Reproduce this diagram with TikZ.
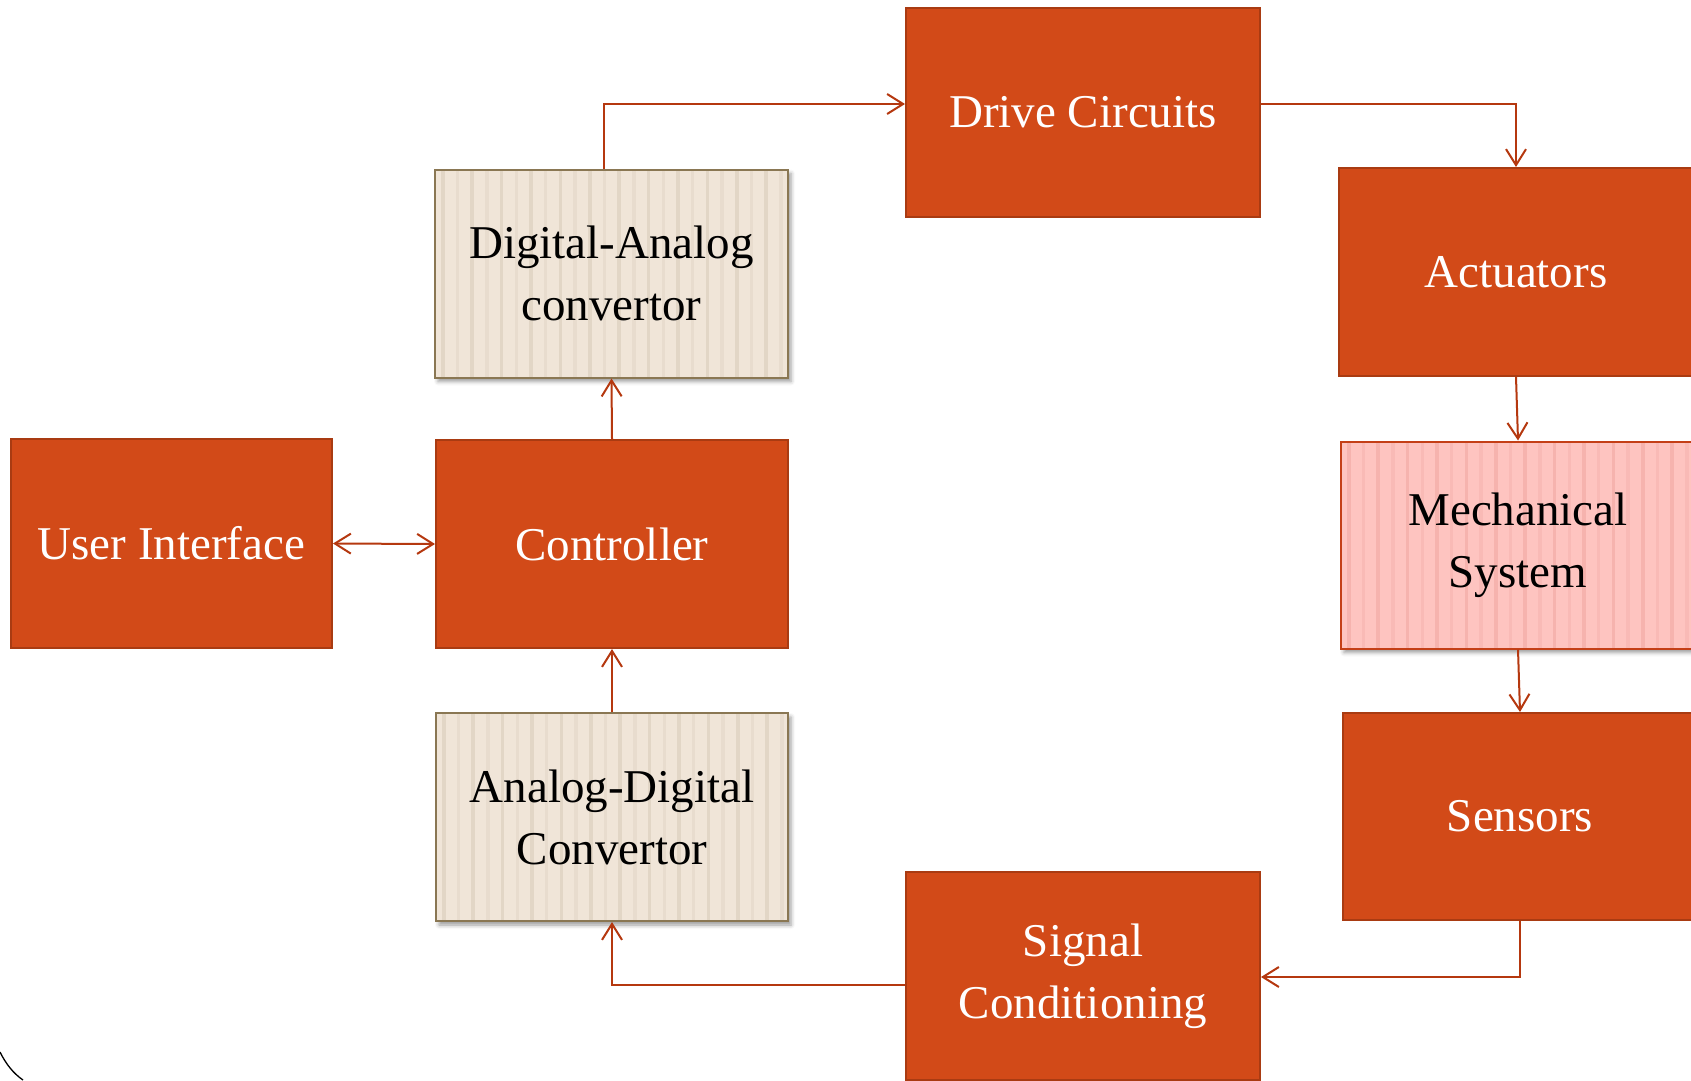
\documentclass[tikz,border=0pt]{standalone}
\usepackage{fontspec}
\setmainfont{Liberation Serif}
\usetikzlibrary{arrows.meta,shadows.blur}

\definecolor{rust}{HTML}{D24A18}
\definecolor{rustedge}{HTML}{A93B12}
\definecolor{linkred}{HTML}{B5380F}
\definecolor{sand}{HTML}{F0E5D8}
\definecolor{sandstripe}{HTML}{E2D6C6}
\definecolor{sandedge}{HTML}{8A7753}
\definecolor{blush}{HTML}{FEC4C0}
\definecolor{blushstripe}{HTML}{F6B3AE}
\definecolor{blushedge}{HTML}{C43F17}

\tikzset{
  block/.style={rectangle, inner sep=0pt, align=center,
    font=\fontsize{47}{62}\selectfont, line width=2pt},
  hot/.style={block, fill=rust, draw=rustedge, text=white},
  stripes/.style={path picture={
    \foreach \k in {0,2,...,24}{
      \fill[#1] ([xshift=\k*14.7pt+6pt]path picture bounding box.south west)
        rectangle ([xshift=\k*14.7pt+9.5pt]path picture bounding box.north west);
    }
    \foreach \k in {1,3,...,23}{
      \fill[#1, opacity=0.55] ([xshift=\k*14.7pt+6pt]path picture bounding box.south west)
        rectangle ([xshift=\k*14.7pt+9.5pt]path picture bounding box.north west);
    }}},
  soft/.style={blur shadow={shadow xshift=3pt, shadow yshift=-4pt,
    shadow blur radius=4pt, shadow opacity=40}},
  paper/.style={block, fill=sand, draw=sandedge, text=black, stripes=sandstripe, soft},
  pink/.style={block, fill=blush, draw=blushedge, text=black, stripes=blushstripe, soft},
  tip/.tip={Straight Barb[length=16pt, width=20pt]},
  link/.style={draw=linkred, line width=2pt, -tip},
  duplex/.style={draw=linkred, line width=2pt, tip-tip}
}

\begin{document}
\begin{tikzpicture}[x=1pt, y=-1pt]
  \useasboundingbox (0,0) rectangle (1691,1080);
  \begin{scope}
  \clip (0,0) rectangle (1691,1080);

  % control chain on the left
  \node[hot, minimum width=321pt, minimum height=209pt] (ui) at (171.5,543.5) {User Interface};
  \node[paper, minimum width=353pt, minimum height=208pt] (dac) at (611.5,273.5) {Digital-Analog\\convertor};
  \node[hot, minimum width=352pt, minimum height=208pt] (ctrl) at (612,544) {Controller};
  \node[paper, minimum width=352pt, minimum height=208pt] (adc) at (612,817) {Analog-Digital\\Convertor};

  % middle column
  \node[hot, minimum width=354pt, minimum height=209pt] (drive) at (1083,112.5) {Drive Circuits};
  \node[hot, minimum width=354pt, minimum height=208pt] (sig) at (1083,976) {Signal\\Conditioning};

  % plant on the right
  \node[hot, minimum width=354pt, minimum height=208pt] (act) at (1516,272) {Actuators};
  \node[pink, minimum width=354pt, minimum height=207pt] (mech) at (1518,545) {Mechanical\\System};
  \node[hot, minimum width=354pt, minimum height=207pt] (sens) at (1520,816.5) {Sensors};

  % signal flow
  \draw[link] ([xshift=-7.5pt]dac.north) |- ([yshift=8.5pt]drive.west);
  \draw[link] ([yshift=8.5pt]drive.east) -| (act.north);
  \draw[link] (act.south) -- (mech.north);
  \draw[link] (mech.south) -- (sens.north);
  \draw[link] (sens.south) |- ([yshift=-1pt]sig.east);
  \draw[link] ([yshift=-8.7pt]sig.west) -| (adc.south);
  \draw[link] (adc.north) -- (ctrl.south);
  \draw[link] (ctrl.north) -- (dac.south);
  \draw[duplex] (ui.east) -- (ctrl.west);

  % frame corner
  \draw[line width=1.3pt] (0,1052) .. controls (6,1064) and (13,1073) .. (23,1080);
  \end{scope}
\end{tikzpicture}
\end{document}
